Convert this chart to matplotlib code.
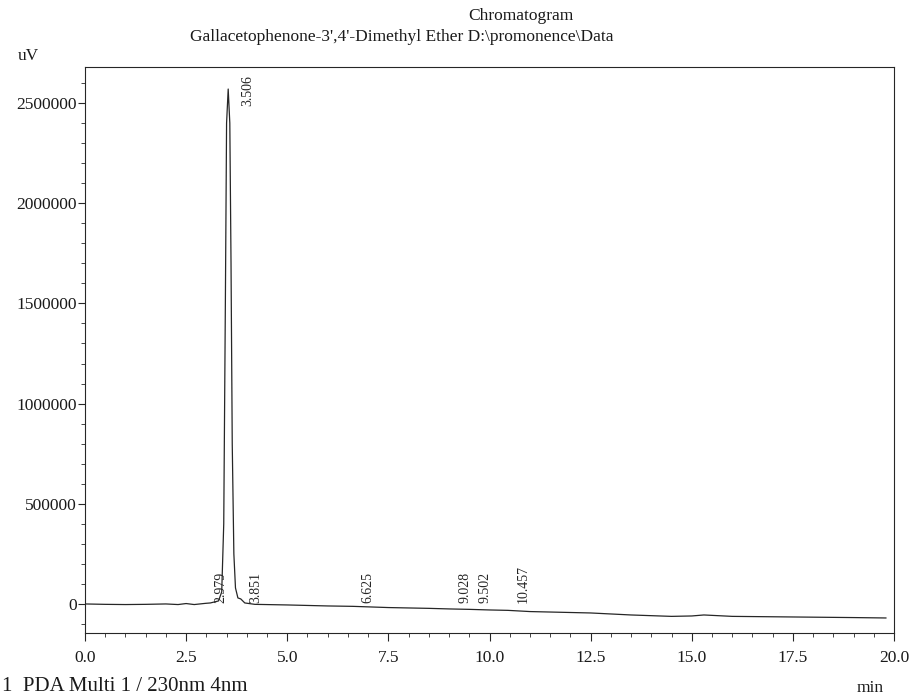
import numpy as np
import matplotlib
matplotlib.use("Agg")
import matplotlib.pyplot as plt
from matplotlib.ticker import MultipleLocator

# trace: retention time (min) and detector signal (uV)
time_min = [0.0, 0.5, 1.0, 1.5, 2.0, 2.3, 2.5, 2.7, 2.979, 3.1, 3.3, 3.38,
            3.43, 3.47, 3.50, 3.54, 3.58, 3.61, 3.64, 3.68, 3.72, 3.78,
            3.851, 3.95, 4.2, 5.0, 6.0, 6.625, 7.5, 8.5, 9.028, 9.502, 10.0,
            10.457, 11.0, 12.5, 13.5, 14.5, 15.0, 15.3, 16.0, 17.5, 19.0, 19.8]
signal_uv = [0, -2000, -3000, -2000, 0, -3000, 2000, -3000, 3000, 5000, 15000,
             60000, 400000, 1500000, 2400000, 2570000, 2400000, 1700000,
             800000, 250000, 80000, 30000, 25000, 5000, -2000, -5000, -10000,
             -12000, -18000, -22000, -25000, -27000, -30000, -32000, -38000,
             -45000, -55000, -62000, -60000, -55000, -62000, -65000, -68000,
             -70000]

peak_times  = [2.979, 3.506, 3.851, 6.625, 9.028, 9.502, 10.457]
peak_labels = ["2.979", "3.506", "3.851", "6.625", "9.028", "9.502", "10.457"]
peak_label_y = [0, 2480000, 0, 0, 0, 0, 0]

x_ticks = [0.0, 2.5, 5.0, 7.5, 10.0, 12.5, 15.0, 17.5, 20.0]
y_ticks = [0, 500000, 1000000, 1500000, 2000000, 2500000]

SERIF = ["Liberation Serif", "DejaVu Serif"]
INK = "#262626"

plt.rcParams["font.family"] = SERIF

fig = plt.figure(figsize=(9.11, 6.98), dpi=100)
ax = fig.add_axes([85 / 911, 65 / 698, 809 / 911, 566 / 698])

ax.plot(time_min, signal_uv, color=INK, lw=0.9)

for t, lbl, yl in zip(peak_times, peak_labels, peak_label_y):
    dx = 15 if lbl == "3.506" else 11
    ax.annotate(lbl, (t, yl), xytext=(dx, 1), textcoords="offset points",
                rotation=90, ha="center", va="bottom", fontsize=10,
                color=INK)

ax.set_xlim(0, 20)
ax.set_ylim(-145000, 2680000)
ax.set_xticks(x_ticks)
ax.set_xticklabels([f"{v:.1f}" for v in x_ticks])
ax.set_yticks(y_ticks)
ax.set_yticklabels([str(v) for v in y_ticks])
ax.xaxis.set_minor_locator(MultipleLocator(0.5))
ax.yaxis.set_minor_locator(MultipleLocator(100000))

ax.tick_params(axis="both", which="major", direction="out", length=6,
               width=0.8, color=INK, labelsize=12.5, labelcolor="#1a1a1a")
ax.tick_params(axis="x", which="major", pad=6)
ax.tick_params(axis="y", which="major", pad=1, length=5)
ax.tick_params(axis="both", which="minor", direction="out", length=3,
               width=0.6, color=INK)

for sp in ax.spines.values():
    sp.set_color(INK)
    sp.set_linewidth(0.8)

fig.text(521 / 911, 1 - 16 / 698, "Chromatogram", ha="center", va="center",
         fontsize=12.5, color="#1a1a1a")
fig.text(402 / 911, 1 - 37 / 698,
         "Gallacetophenone-3',4'-Dimethyl Ether D:\\promonence\\Data",
         ha="center", va="center", fontsize=12.5, color="#1a1a1a")
fig.text(18 / 911, 1 - 56 / 698, "uV", ha="left", va="center",
         fontsize=12.5, color="#1a1a1a")
fig.text(870 / 911, 1 - 688 / 698, "min", ha="center", va="center",
         fontsize=12.5, color="#1a1a1a")
fig.text(2 / 911, 2 / 698, "1  PDA Multi 1 / 230nm 4nm", ha="left",
         va="bottom", fontsize=15, color="#1a1a1a")

fig.savefig("out.png", dpi=100)
